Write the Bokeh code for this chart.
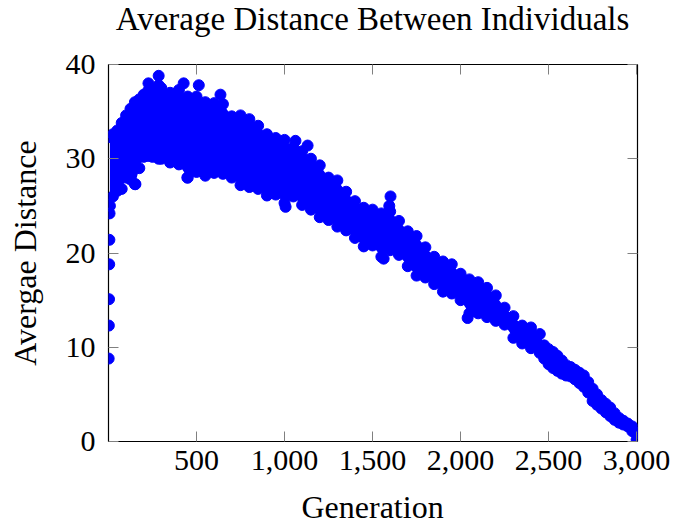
from bokeh.plotting import figure
from bokeh.models import (Range1d, FixedTicker, NumeralTickFormatter, LinearAxis,
                          ColumnDataSource, CustomJSTickFormatter, Label)
from bokeh.embed import file_html
from bokeh.resources import INLINE

# ---- data ----
# first generations (isolated rising points)
gen_early = [1, 2, 3, 4, 5, 6]
dist_early = [8.8, 12.3, 15.1, 18.8, 21.4, 24.2]

# sampled generations of the dense band, with its upper and lower extent
gen = [8, 25, 50, 75, 100, 125, 150, 175, 200, 225, 250, 285, 300, 350, 400, 450,
       500, 550, 600, 650, 700, 750, 800, 850, 900, 950, 1000, 1050, 1100, 1150,
       1200, 1250, 1300, 1350, 1400, 1450, 1500, 1550, 1600, 1650, 1700, 1750,
       1800, 1850, 1900, 1950, 2000, 2050, 2100, 2150, 2200, 2250, 2300, 2350,
       2400, 2450, 2475, 2500, 2525, 2550, 2575, 2600, 2625, 2650, 2675, 2700,
       2725, 2750, 2775, 2800, 2825, 2850, 2875, 2900, 2925, 2950, 2975, 3000]
dist_high = [32.3, 32.6, 33.0, 33.8, 34.6, 35.3, 36.0, 36.3, 36.8, 37.2, 37.4, 37.8, 37.5, 37.0, 37.3, 36.6,
             36.6, 36.0, 35.9, 35.8, 34.5, 34.6, 34.2, 33.5, 32.6, 32.2, 32.0, 31.2, 30.8, 30.0,
             29.3, 28.0, 27.7, 26.5, 25.5, 24.8, 24.6, 24.2, 24.4, 23.4, 22.3, 21.8,
             20.6, 19.6, 19.1, 18.8, 17.8, 17.2, 16.9, 16.3, 15.5, 14.2, 13.3, 12.3,
             12.1, 11.4, 10.2, 9.8, 9.5, 9.1, 8.6, 8.1, 7.9, 7.6, 7.3, 7.0,
             6.3, 5.6, 5.0, 4.4, 4.0, 3.6, 3.0, 2.5, 2.2, 1.9, 1.6, 0.9]
dist_low = [25.0, 26.0, 26.6, 26.8, 28.0, 27.8, 27.3, 29.0, 30.2, 30.3, 30.2, 30.0, 30.0, 29.6, 29.4, 28.0,
            28.6, 28.2, 28.5, 28.4, 28.0, 27.2, 27.0, 26.8, 26.1, 26.2, 25.3, 26.0, 25.1, 24.6,
            23.8, 23.5, 22.8, 22.4, 21.6, 20.7, 20.8, 19.6, 20.3, 19.8, 18.6, 17.6,
            17.4, 16.7, 15.9, 15.7, 15.0, 13.6, 13.6, 13.2, 12.8, 12.4, 11.0, 10.4,
            9.9, 9.4, 8.8, 8.2, 7.8, 7.5, 7.2, 7.0, 6.9, 6.6, 6.2, 5.8,
            5.2, 4.3, 3.9, 3.5, 3.1, 2.7, 2.3, 2.0, 1.8, 1.6, 1.1, 0.2]

# points standing out of the band
gen_out = [227, 285, 427, 513, 636, 1062, 1131, 1595, 1602, 153, 448, 1006, 1563, 2040]
dist_out = [38.0, 38.8, 38.0, 37.8, 36.8, 31.9, 31.4, 25.0, 26.0, 27.3, 28.0, 24.9, 19.4, 13.1]

x_ticks = [500, 1000, 1500, 2000, 2500, 3000]
y_ticks = [0, 10, 20, 30, 40]

TITLE = "Average Distance Between Individuals"
XLABEL = "Generation"
YLABEL = "Avergae Distance"

BLUE = "#0000ff"
FONT = "Liberation Serif"

p = figure(width=688, height=526, output_backend="svg", toolbar_location=None,
           x_range=Range1d(0, 3005), y_range=Range1d(0, 40),
           min_border_left=108, min_border_right=51, min_border_top=64, min_border_bottom=85)

p.xgrid.visible = False
p.ygrid.visible = False
p.outline_line_color = "black"
p.outline_line_width = 1.2
p.background_fill_color = "white"
p.border_fill_color = "white"

band = ColumnDataSource(dict(gen=gen, high=dist_high, low=dist_low))
p.varea(x="gen", y1="low", y2="high", source=band, fill_color=BLUE)
p.scatter(x="gen", y="high", source=band, size=11, color=BLUE)
p.scatter(x="gen", y="low", source=band, size=11, color=BLUE)
p.scatter(gen_early, dist_early, size=11, color=BLUE)
p.scatter(gen_out, dist_out, size=11, color=BLUE)

def style(ax):
    ax.major_tick_in = 10
    ax.major_tick_out = 0
    ax.minor_tick_in = 0
    ax.minor_tick_out = 0
    ax.major_tick_line_color = "#808080"
    ax.axis_line_color = None
    ax.major_label_text_font = FONT
    ax.major_label_text_font_size = "30px"
    ax.major_label_text_color = "black"
    ax.axis_label_text_font = FONT
    ax.axis_label_text_font_size = "32px"
    ax.axis_label_text_font_style = "normal"
    ax.axis_label_text_color = "black"

xa = p.xaxis[0]
xa.ticker = FixedTicker(ticks=x_ticks)
xa.formatter = NumeralTickFormatter(format="0,0")
style(xa)
xa.major_label_standoff = 9

ya = p.yaxis[0]
ya.ticker = FixedTicker(ticks=y_ticks)
ya.axis_label = YLABEL
style(ya)
ya.major_label_standoff = 13
ya.axis_label_standoff = 20

blank = CustomJSTickFormatter(code="return ''")
top_ax = LinearAxis(ticker=FixedTicker(ticks=x_ticks), formatter=blank, major_label_standoff=0)
style(top_ax)
p.add_layout(top_ax, "above")
right_ax = LinearAxis(ticker=FixedTicker(ticks=y_ticks), formatter=blank, major_label_standoff=0)
style(right_ax)
p.add_layout(right_ax, "right")

# title and x-axis label: labels kept in the side panels so they are not clipped to the frame
p.add_layout(Label(x=1500, y=44.87, text=TITLE, text_align="center", text_baseline="alphabetic",
                   text_font=FONT, text_font_size="33px", text_color="black"), "above")
p.add_layout(Label(x=1500, y=-6.9, text=XLABEL, text_align="center", text_baseline="alphabetic",
                   text_font=FONT, text_font_size="32px", text_color="black"), "below")

open("out.html", "w").write(file_html(p, INLINE))
